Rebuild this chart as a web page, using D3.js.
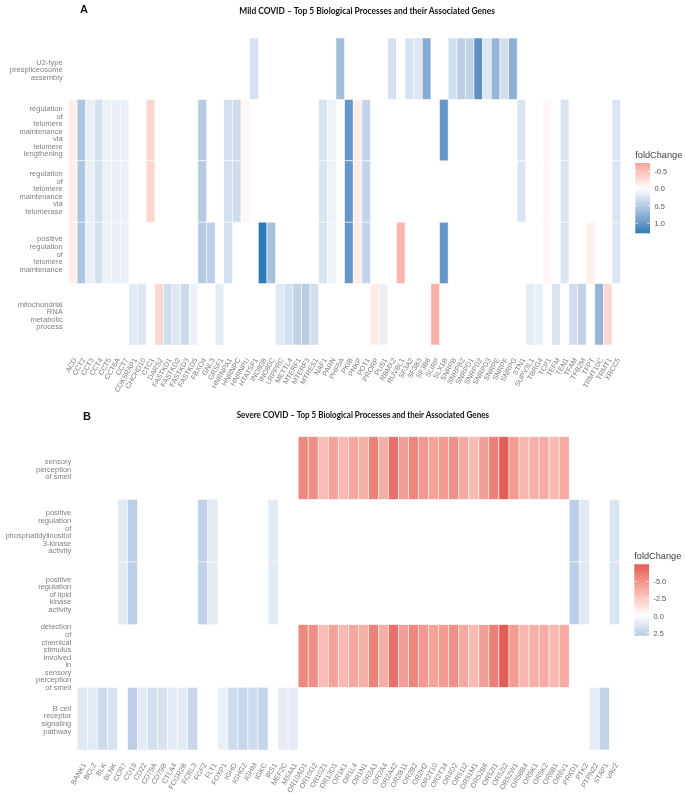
<!DOCTYPE html>
<html>
<head>
<meta charset="utf-8">
<script src="https://cdn.jsdelivr.net/npm/d3@7"></script>
<style>
  html, body { margin: 0; padding: 0; background: #fff; }
  svg { display: block; }
  text { font-family: "Liberation Sans", Arial, sans-serif; filter: grayscale(1); }
</style>
</head>
<body>
<svg id="figure" width="685" height="795"></svg>
<script>
// Mild COVID: genes and their fold change
const mildGenes = ["ACD","CCT2","CCT3","CCT4","CCT5","CCT6A","CCT7","CDK5RAP1","CHCHD10","CTC1","DARS2","FASTKD1","FASTKD2","FASTKD3","FASTKD5","FBXO4","GNL3","GRSF1","HNRNPA1","HNRNPC","HNRNPU","HTATSF1","INO80B","INO80C","LRPPRC","METTL4","MTERF1","MTERF3","MTRES1","NAF1","PARN","PHF5A","PKIB","PNKP","POT1","PRORP","PUS1","RBMX2","RUVBL1","SF3A2","SF3B3","SF3B6","SLIRP","SLX1B","SNRPB","SNRPB2","SNRPD1","SNRPD2","SNRPD3","SNRPE","SNRPF","SNRPG","STN1","SUPV3L1","TBRG4","TCP1","TEFM","TEN1","TFAM","TFB2M","TFPT","TRMT10C","TRMT1","XRCC5"];
const mildFold = [-0.14,0.55,0.15,0.28,0.13,0.14,0.13,0.2,0.22,-0.34,-0.32,0.32,0.22,0.35,0.13,0.5,0.45,0.18,0.3,0.33,-0.07,0.28,1.29,0.58,0.22,0.3,0.42,0.48,0.3,0.25,0.12,0.62,1.0,-0.16,0.4,-0.16,0.14,0.27,-0.58,0.27,0.22,0.8,-0.63,1.0,0.3,0.45,0.42,1.05,0.22,0.7,0.3,0.75,0.25,0.18,0.15,-0.07,0.25,0.24,0.32,0.42,-0.12,0.7,-0.31,0.24];

// Mild COVID: processes and the genes annotated to each
const mildProcesses = [
  "U2-type\nprespliceosome\nassembly",
  "regulation\nof\ntelomere\nmaintenance\nvia\ntelomere\nlengthening",
  "regulation\nof\ntelomere\nmaintenance\nvia\ntelomerase",
  "positive\nregulation\nof\ntelomere\nmaintenance",
  "mitochondrial\nRNA\nmetabolic\nprocess"
];
const mildU2 = ["HTATSF1","PHF5A","RBMX2","SF3A2","SF3B3","SF3B6","SNRPB","SNRPB2","SNRPD1","SNRPD2","SNRPD3","SNRPE","SNRPF","SNRPG"];
const mildTelomereLengthening = ["ACD","CCT2","CCT3","CCT4","CCT5","CCT6A","CCT7","CTC1","FBXO4","HNRNPA1","HNRNPC","HNRNPU","NAF1","PARN","PKIB","PNKP","POT1","SLX1B","STN1","TCP1","TEN1","XRCC5"];
const mildTelomerase = ["ACD","CCT2","CCT3","CCT4","CCT5","CCT6A","CCT7","CTC1","FBXO4","HNRNPA1","HNRNPC","HNRNPU","NAF1","PARN","PKIB","PNKP","POT1","STN1","TCP1","TEN1","XRCC5"];
const mildPositiveTelomere = ["ACD","CCT2","CCT3","CCT4","CCT5","CCT6A","CCT7","FBXO4","GNL3","HNRNPA1","INO80B","INO80C","NAF1","PARN","PKIB","PNKP","POT1","RUVBL1","SLX1B","TCP1","TEN1","TFPT","XRCC5"];
const mildMitoRna = ["CDK5RAP1","CHCHD10","DARS2","FASTKD1","FASTKD2","FASTKD3","FASTKD5","GRSF1","LRPPRC","METTL4","MTERF1","MTERF3","MTRES1","PRORP","PUS1","SLIRP","SUPV3L1","TBRG4","TEFM","TFAM","TFB2M","TRMT10C","TRMT1"];
const mildMembers = [mildU2, mildTelomereLengthening, mildTelomerase, mildPositiveTelomere, mildMitoRna];
const mildLegendTicks = [-0.5, 0, 0.5, 1];
const mildFoldExtent = [-0.74, 1.29];

// Severe COVID: genes and their fold change
const severeGenes = ["BANK1","BCL2","BLK","BLNK","CCR7","CD19","CD22","CD79A","CD79B","CTLA4","FCGR2B","FCRL3","FGF2","FLT1","FOXP1","IGHD","IGHG2","IGHM","IGKC","IRS1","MEF2C","MS4A1","OR10AD1","OR10G2","OR10Z1","OR13D1","OR1K1","OR1L4","OR1N1","OR2A1","OR2A4","OR2A42","OR2B11","OR2B2","OR2H2","OR2T10","OR2T34","OR4D2","OR51I2","OR51M1","OR52B6","OR52I1","OR52I2","OR52W1","OR56B4","OR5K1","OR5K2","OR6B1","OR6V1","PRKD1","PTK2","PTPN22","STAP1","VAV2"];
const severeFold = [1.25,1.15,1.95,1.5,1.15,2.6,1.1,1.75,1.5,1.05,1.15,2.2,2.5,1.15,0.8,1.95,2.2,1.95,2.3,1.15,1.05,1.05,-5.5,-5.2,-3.2,-4.3,-3.3,-4.1,-3.7,-5.8,-3.8,-6.6,-4.5,-5.6,-4.8,-4.3,-4.7,-5.2,-4.0,-3.2,-4.5,-5.9,-7.4,-4.6,-3.4,-3.7,-3.9,-3.3,-3.9,2.6,1.25,1.0,2.4,1.4];

// Severe COVID: processes and the genes annotated to each
const severeProcesses = [
  "sensory\nperception\nof smell",
  "positive\nregulation\nof\nphosphatidylinositol\n3-kinase\nactivity",
  "positive\nregulation\nof lipid\nkinase\nactivity",
  "detection\nof\nchemical\nstimulus\ninvolved\nin\nsensory\nperception\nof smell",
  "B cell\nreceptor\nsignaling\npathway"
];
const severeOlfactory = severeGenes.filter(g => g.startsWith("OR"));
const severePi3k = ["CCR7","CD19","FGF2","FLT1","IRS1","PRKD1","PTK2","VAV2"];
const severeBcr = ["BANK1","BCL2","BLK","BLNK","CD19","CD22","CD79A","CD79B","CTLA4","FCGR2B","FCRL3","FOXP1","IGHD","IGHG2","IGHM","IGKC","MEF2C","MS4A1","PTPN22","STAP1"];
const severeMembers = [severeOlfactory, severePi3k, severePi3k, severeOlfactory, severeBcr];
const severeLegendTicks = [-5, -2.5, 0, 2.5];
const severeFoldExtent = [-7.5, 2.87];

// Shared colours: a diverging gradient centred on white
const lowColor = "#e05a55";
const midColor = "#ffffff";
const highColor = "#2c7bb6";
const labelGrey = "#808080";

const svg = d3.select("#figure");

// A heatmap tile panel with its wrapped process labels, gene labels and colourbar
function drawPanel(cfg) {
  const x = d3.scaleBand().domain(cfg.genes).range([cfg.left, cfg.right]);
  const y = d3.scaleBand().domain(cfg.processes).range([cfg.top, cfg.bottom]);
  const limit = Math.max(Math.abs(cfg.extent[0]), Math.abs(cfg.extent[1]));
  const color = d3.scaleLinear()
    .domain([-limit, 0, limit])
    .range([lowColor, midColor, highColor])
    .interpolate(d3.interpolateLab);

  const foldOf = new Map(cfg.genes.map((g, i) => [g, cfg.fold[i]]));
  const tiles = cfg.members.flatMap((list, r) =>
    list.map(gene => ({ gene, process: cfg.processes[r], value: foldOf.get(gene) })));

  const g = svg.append("g");
  g.selectAll("rect.tile").data(tiles).join("rect")
    .attr("class", "tile")
    .attr("x", d => x(d.gene))
    .attr("y", d => y(d.process))
    .attr("width", x.bandwidth())
    .attr("height", y.bandwidth())
    .attr("fill", d => color(d.value))
    .attr("stroke", "#fff")
    .attr("stroke-opacity", 0.75)
    .attr("stroke-width", 0.7);

  // Gene names, slanted under the tiles
  const xAxis = g.append("g")
    .attr("transform", `translate(0,${cfg.bottom + cfg.xLabelGap})`)
    .call(d3.axisBottom(x).tickSize(0).tickPadding(0));
  xAxis.select(".domain").remove();
  xAxis.selectAll("text")
    .attr("font-size", cfg.xFont)
    .attr("fill", labelGrey)
    .attr("text-anchor", "end")
    .attr("dy", "0.35em")
    .attr("y", 0)
    .attr("x", 0)
    .attr("transform", "translate(2,0) rotate(-60)");

  // Process names, one wrapped line per tspan, centred on the row
  const yAxis = g.append("g")
    .attr("transform", `translate(${cfg.yLabelX},0)`)
    .call(d3.axisLeft(y).tickSize(0).tickPadding(0).tickFormat(""));
  yAxis.select(".domain").remove();
  yAxis.selectAll("text")
    .attr("font-size", 7.55)
    .attr("fill", labelGrey)
    .attr("text-anchor", "end")
    .each(function (d) {
      const lines = d.split("\n");
      const t = d3.select(this).attr("dy", null).attr("x", 0).attr("y", 0);
      lines.forEach((line, i) => {
        t.append("tspan")
          .attr("x", 0)
          .attr("y", (i - (lines.length - 1) / 2) * 7.55 + 3.6)
          .text(line);
      });
    });

  // Colourbar
  const lg = cfg.legend;
  const bar = d3.scaleLinear().domain(cfg.extent).range([lg.top, lg.bottom]);
  const stops = d3.range(0, 1.0001, 0.05).map(t => cfg.extent[0] + t * (cfg.extent[1] - cfg.extent[0]));
  const grad = svg.append("defs").append("linearGradient")
    .attr("id", cfg.id).attr("x1", 0).attr("x2", 0).attr("y1", 0).attr("y2", 1);
  grad.selectAll("stop").data(stops).join("stop")
    .attr("offset", v => (v - cfg.extent[0]) / (cfg.extent[1] - cfg.extent[0]))
    .attr("stop-color", v => color(v));
  const lgG = svg.append("g");
  lgG.append("rect")
    .attr("x", lg.left).attr("y", lg.top)
    .attr("width", lg.width).attr("height", lg.bottom - lg.top)
    .attr("fill", `url(#${cfg.id})`);
  lgG.append("text")
    .attr("x", lg.left).attr("y", lg.top - 5)
    .attr("font-size", 9.2).attr("fill", "#404040")
    .text("foldChange");
  const tick = lgG.selectAll("g").data(cfg.ticks).join("g")
    .attr("transform", v => `translate(0,${bar(v)})`);
  [[lg.left, lg.left + 3], [lg.left + lg.width - 3, lg.left + lg.width]].forEach(([a, b]) => {
    tick.append("line").attr("x1", a).attr("x2", b).attr("stroke", "#fff").attr("stroke-width", 0.6);
  });
  tick.append("text")
    .attr("x", lg.left + lg.width + 4.5).attr("dy", "0.35em")
    .attr("font-size", 7.4).attr("fill", "#555")
    .text(v => d3.format(".1f")(v).replace("\u2212", "-"));

  // Panel letter and heading
  svg.append("text")
    .attr("x", cfg.letterX).attr("y", cfg.letterY)
    .attr("font-size", 11).attr("font-weight", 700).attr("fill", "#111")
    .text(cfg.letter);
  svg.append("text")
    .attr("x", cfg.titleX).attr("y", cfg.titleY)
    .attr("font-size", 8.6).attr("font-weight", 700).attr("fill", "#111")
    .attr("textLength", cfg.titleWidth).attr("lengthAdjust", "spacingAndGlyphs")
    .style("font-family", "Lato, sans-serif")
    .text(cfg.title);
}

drawPanel({
  id: "mildBar", letter: "A", letterX: 80, letterY: 12.5,
  title: "Mild COVID – Top 5 Biological Processes and their Associated Genes",
  titleX: 239.3, titleY: 13.5, titleWidth: 255.7,
  genes: mildGenes, fold: mildFold, processes: mildProcesses, members: mildMembers,
  extent: mildFoldExtent, ticks: mildLegendTicks,
  left: 68.5, right: 620.7, top: 38, bottom: 345,
  xFont: 7.2, xLabelGap: 13.5, yLabelX: 62.7,
  legend: { left: 635.3, width: 14.7, top: 163, bottom: 233.3 }
});

drawPanel({
  id: "severeBar", letter: "B", letterX: 83, letterY: 419.5,
  title: "Severe COVID – Top 5 Biological Processes and their Associated Genes",
  titleX: 236.7, titleY: 417.5, titleWidth: 252.3,
  genes: severeGenes, fold: severeFold, processes: severeProcesses, members: severeMembers,
  extent: severeFoldExtent, ticks: severeLegendTicks,
  left: 77.3, right: 619.4, top: 436.7, bottom: 750,
  xFont: 7.2, xLabelGap: 13.5, yLabelX: 71.3,
  legend: { left: 634.3, width: 14.7, top: 564.3, bottom: 635.7 }
});
</script>
</body>
</html>
